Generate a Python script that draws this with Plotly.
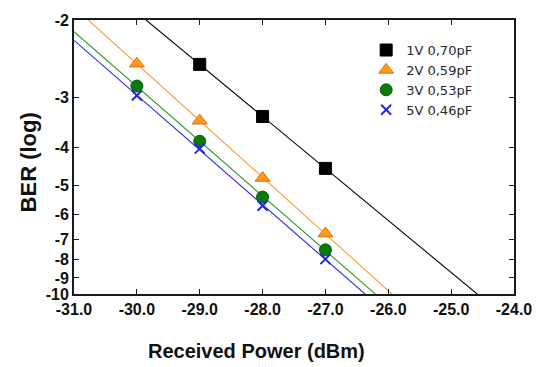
import math
import numpy as np
import plotly.graph_objects as go

# Received optical power (dBm) and measured BER (log10) per bias condition
power_1v = [-29.0, -28.0, -27.0]
ber_1v = [-2.51, -3.34, -4.52]

power_2v = [-30.0, -29.0, -28.0, -27.0]
ber_2v = [-2.50, -3.42, -4.79, -6.76]

power_3v = [-30.0, -29.0, -28.0, -27.0]
ber_3v = [-2.82, -3.85, -5.38, -7.50]

power_5v = [-30.0, -29.0, -28.0, -27.0]
ber_5v = [-2.97, -4.02, -5.68, -7.96]

series_names = ["1V 0,70pF", "2V 0,59pF", "3V 0,53pF", "5V 0,46pF"]

x_ticks = [-31, -30, -29, -28, -27, -26, -25, -24]
y_tick_exponents = [-2, -3, -4, -5, -6, -7, -8, -9, -10]


def q_factor(log_ber):
    """Gaussian Q factor giving BER = 0.5*erfc(Q/sqrt(2))."""
    target = 10.0 ** log_ber
    lo, hi = 0.0, 12.0
    for _ in range(100):
        mid = 0.5 * (lo + hi)
        if 0.5 * math.erfc(mid / math.sqrt(2)) > target:
            lo = mid
        else:
            hi = mid
    return 0.5 * (lo + hi)


styles = [
    dict(symbol="square", size=12, color="#000000", line_color="#000000", lc="#000000"),
    dict(symbol="triangle-up", size=13, color="#FF9A1E", line_color="#E07000", lc="#FF9A33"),
    dict(symbol="circle", size=12, color="#0A7A0A", line_color="#0A5A0A", lc="#2E9A2E"),
    dict(symbol="x-thin", size=10, color="#2828D8", line_color="#2828D8", lc="#2A2AE8"),
]

data = [(power_1v, ber_1v), (power_2v, ber_2v), (power_3v, ber_3v), (power_5v, ber_5v)]

fig = go.Figure()

x_span = np.array([x_ticks[0], x_ticks[-1]], dtype=float)

# Straight-line fits in the log(Q) domain
for (px, pb), st in zip(data, styles):
    logq = np.log10([q_factor(b) for b in pb])
    slope, icpt = np.polyfit(px, logq, 1)
    fit_q = 10 ** (slope * x_span + icpt)
    fig.add_trace(go.Scatter(
        x=x_span, y=fit_q, mode="lines",
        line=dict(color=st["lc"], width=1.1),
        showlegend=False, hoverinfo="skip",
    ))

for (px, pb), st, name in zip(data, styles, series_names):
    fig.add_trace(go.Scatter(
        x=px, y=[q_factor(b) for b in pb], mode="markers", name=name,
        marker=dict(symbol=st["symbol"], size=st["size"], color=st["color"],
                    line=dict(color=st["line_color"], width=2 if st["symbol"] == "x-thin" else 1)),
    ))

q_ticks = [q_factor(e) for e in y_tick_exponents]

axis_common = dict(
    showline=True, linecolor="#1a1a1a", linewidth=1.8, mirror="ticks",
    ticks="inside", ticklen=5, tickwidth=1.2, tickcolor="#1a1a1a",
    showgrid=False, zeroline=False,
    tickfont=dict(family="Liberation Sans, Arial, sans-serif", size=16, color="#111111", weight="bold"),
)

fig.update_xaxes(
    range=[x_ticks[0], x_ticks[-1]],
    tickvals=x_ticks, ticktext=[f"{v:.1f}" for v in x_ticks],
    **axis_common,
)
fig.update_yaxes(
    type="log",
    range=[math.log10(q_ticks[-1]), math.log10(q_ticks[0])],
    tickvals=q_ticks, ticktext=[str(e) for e in y_tick_exponents],
    **axis_common,
)

fig.update_layout(
    width=547, height=367,
    margin=dict(l=74, r=33, t=15, b=73),
    paper_bgcolor="white", plot_bgcolor="white",
    showlegend=True,
    legend=dict(
        x=0.664, y=0.945, xanchor="left", yanchor="top",
        bgcolor="rgba(0,0,0,0)", borderwidth=0,
        font=dict(family="DejaVu Sans, sans-serif", size=13, color="#2a2a2a"),
        tracegroupgap=0, itemwidth=30,
    ),
    annotations=[
        dict(text="<b>Received Power (dBm)</b>", x=256, y=352, xref="paper", yref="paper",
             xanchor="center", yanchor="middle",
             showarrow=False, font=dict(family="Liberation Sans, Arial, sans-serif", size=20, color="#111111")),
        dict(text="<b>BER (log)</b>", x=28, y=160, xref="paper", yref="paper", textangle=-90,
             xanchor="center", yanchor="middle",
             showarrow=False, font=dict(family="Liberation Sans, Arial, sans-serif", size=22, color="#111111")),
    ],
)

# annotation positions above are given in pixels; convert to paper fractions
pw = 547 - 74 - 33
ph = 367 - 15 - 73
for ann in fig.layout.annotations:
    ann.x = (ann.x - 74) / pw
    ann.y = (367 - 73 - ann.y) / ph

fig.write_html("out.html")
